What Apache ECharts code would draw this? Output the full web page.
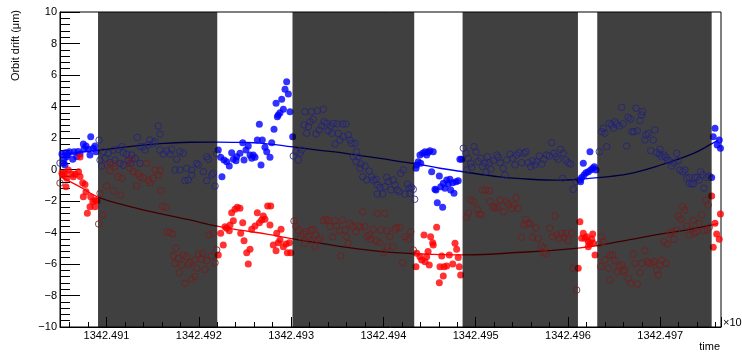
<!DOCTYPE html>
<html>
<head>
<meta charset="utf-8">
<script src="https://cdn.jsdelivr.net/npm/echarts@6/dist/echarts.min.js"></script>
<style>
  html, body { margin: 0; padding: 0; background: #fff; }
  #chart { width: 742px; height: 354px; }
</style>
</head>
<body>
<div id="chart"></div>
<script>
// time axis: seconds since 1342490 s (labels shown in units of 10^3 s)
const T_BASE = 1342.490;
const X_MIN = 0.496, X_MAX = 7.658;
const Y_MIN = -10, Y_MAX = 10;

// shaded intervals [start, end]
const shadedSpans = [
  [0.908, 2.200], [3.015, 4.334], [4.858, 6.108], [6.317, 7.557]
];

// filled markers (outside shaded intervals)
const blueSolid = [
  [0.517,0.98],[0.532,0.39],[0.540,0.65],[0.550,0.29],[0.556,1.07],[0.569,0.81],[0.583,0.95],[0.597,1.13],
  [0.634,0.65],[0.648,1.13],[0.677,0.81],[0.691,1.15],[0.713,0.98],[0.749,1.62],[0.756,1.30],[0.778,1.49],
  [0.803,1.28],[0.821,0.92],[0.829,2.08],[0.857,1.35],[0.875,1.50],[0.886,1.13],
  [2.211,1.24],[2.237,0.77],[2.251,-0.46],[2.273,0.60],[2.302,0.50],[2.330,0.22],[2.356,1.07],[2.374,0.65],
  [2.403,0.56],[2.410,0.81],[2.446,1.03],[2.476,1.70],[2.490,0.60],[2.511,1.24],[2.536,1.49],[2.555,0.92],
  [2.573,0.71],[2.590,0.92],[2.609,0.77],[2.634,1.87],[2.656,2.87],[2.674,0.29],[2.688,1.87],[2.717,1.41],
  [2.736,1.13],[2.771,0.77],[2.790,1.70],[2.815,2.55],[2.837,4.20],[2.851,3.35],[2.861,3.46],[2.880,3.61],
  [2.898,4.46],[2.916,3.82],[2.934,5.09],[2.952,5.57],[2.970,4.79],[2.988,3.67],[3.017,2.08],
  [4.353,0.08],[4.361,0.29],[4.378,0.50],[4.396,0.92],[4.404,0.39],[4.426,1.03],[4.451,1.13],[4.469,0.92],
  [4.486,1.10],[4.504,1.19],[4.523,-0.14],[4.540,1.13],[4.559,-1.26],[4.570,-1.30],[4.584,-2.11],[4.606,-0.41],
  [4.621,-1.09],[4.642,-2.40],[4.649,-0.88],[4.667,-1.19],[4.686,-0.67],[4.703,-0.92],[4.721,-0.62],[4.729,-1.30],
  [4.751,-0.84],[4.765,-1.51],[4.787,-0.77],[4.811,-0.71],[4.829,0.65],[4.848,0.65],
  [6.129,-0.67],[6.137,-0.77],[6.148,-0.50],[6.166,0.39],[6.174,-0.35],[6.195,-0.20],[6.220,-0.14],[6.238,1.13],
  [6.246,-0.03],[6.268,0.08],[6.285,0.18],[6.303,-0.03],
  [7.557,-0.50],[7.574,2.08],[7.593,2.62],[7.617,1.56],[7.639,1.87],[7.652,1.35]
];

const redSolid = [
  [0.517,-0.24],[0.529,-0.35],[0.550,-0.20],[0.561,-1.09],[0.569,-0.56],[0.586,-0.03],[0.623,-0.29],[0.640,-0.46],
  [0.659,-0.30],[0.697,-0.14],[0.713,0.80],[0.713,-0.45],[0.742,-0.84],[0.749,-1.73],[0.767,-0.95],[0.778,-1.41],
  [0.792,-2.78],[0.821,-2.36],[0.829,-1.73],[0.851,-2.04],[0.875,-1.95],[0.875,-2.36],[0.897,-2.00],
  [2.211,-5.43],[2.237,-4.05],[2.265,-4.79],[2.284,-3.63],[2.302,-3.73],[2.330,-3.89],[2.338,-3.52],[2.356,-2.74],
  [2.374,-3.25],[2.392,-2.53],[2.417,-2.40],[2.446,-2.46],[2.454,-4.05],[2.476,-3.38],[2.490,-4.52],[2.519,-5.28],
  [2.536,-6.00],[2.555,-5.07],[2.573,-3.80],[2.609,-3.59],[2.634,-2.74],[2.656,-3.38],[2.681,-3.21],[2.699,-2.95],
  [2.717,-3.16],[2.746,-2.32],[2.771,-3.52],[2.779,-2.32],[2.807,-4.79],[2.837,-5.16],[2.844,-4.05],[2.861,-4.65],
  [2.880,-4.48],[2.891,-3.80],[2.916,-4.90],[2.945,-4.73],[2.959,-5.28],[2.981,-4.65],[2.996,-5.28],
  [4.353,-6.17],[4.361,-5.32],[4.396,-5.54],[4.415,-5.75],[4.440,-4.16],[4.451,-5.85],[4.469,-5.54],[4.484,-5.20],
  [4.497,-6.06],[4.512,-4.27],[4.534,-4.65],[4.540,-4.79],[4.577,-3.67],[4.606,-7.19],[4.613,-6.17],[4.632,-5.49],
  [4.649,-6.76],[4.657,-6.17],[4.686,-6.13],[4.714,-5.43],[4.751,-6.00],[4.776,-4.69],[4.794,-5.07],[4.811,-5.58],
  [4.822,-6.17],[4.837,-6.70],
  [6.111,-6.27],[6.129,-3.31],[6.148,-4.37],[6.166,-4.05],[6.184,-4.37],[6.203,-4.27],[6.220,-4.58],[6.220,-4.90],
  [6.238,-4.73],[6.257,-4.43],[6.268,-4.10],[6.274,-4.69],[6.293,-5.43],
  [7.557,-1.68],[7.574,-4.94],[7.593,-3.42],[7.611,-4.10],[7.639,-4.43],[7.652,-2.83]
];

// open markers (inside shaded intervals)
const blueHollow = [
  [0.496,0.41],[0.919,1.87],
  [0.930,0.60],[0.948,0.22],[0.965,1.13],[0.984,0.71],[1.019,1.03],[1.038,0.43],[1.074,1.24],[1.092,0.60],
  [1.128,1.28],[1.146,0.39],[1.165,1.45],[1.182,1.07],[1.182,0.27],[1.219,0.98],[1.236,0.60],[1.262,0.39],
  [1.273,0.92],[1.309,0.71],[1.334,2.04],[1.363,0.39],[1.363,1.45],[1.399,1.45],[1.417,1.24],[1.453,1.56],
  [1.471,1.87],[1.507,1.66],[1.525,1.77],[1.561,2.76],[1.580,2.25],[1.580,1.24],[1.615,0.98],[1.652,1.19],
  [1.688,0.98],[1.706,1.28],[1.742,-0.03],[1.761,0.65],[1.796,1.13],[1.796,-0.03],[1.832,1.03],[1.850,-0.71],
  [1.869,0.08],[1.886,-0.67],[1.923,-0.03],[1.923,-0.35],[1.977,0.39],[1.995,0.29],[2.049,-0.14],[2.086,0.81],
  [2.086,-0.71],[2.103,0.65],[2.140,-0.35],[2.157,-0.24],[2.176,-1.05],[2.194,1.03],
  [3.024,0.86],[3.053,1.13],[3.078,0.60],[3.096,1.03],[3.115,1.24],[3.140,2.83],[3.150,3.67],[3.169,2.30],
  [3.187,2.72],[3.205,3.03],[3.223,3.67],[3.240,3.19],[3.270,2.25],[3.284,3.73],[3.305,2.51],[3.331,2.76],
  [3.349,3.82],[3.356,3.03],[3.386,2.93],[3.403,2.46],[3.429,2.76],[3.440,2.30],[3.457,2.93],[3.476,1.62],
  [3.501,2.89],[3.511,2.30],[3.529,1.87],[3.559,2.89],[3.565,2.08],[3.595,2.89],[3.620,2.19],[3.638,1.87],
  [3.656,1.66],[3.674,0.81],[3.692,1.66],[3.703,0.50],[3.711,1.13],[3.728,0.81],[3.746,0.08],[3.754,0.35],
  [3.776,-0.46],[3.801,0.22],[3.819,-0.67],[3.847,-0.10],[3.873,-0.46],[3.890,-0.67],[3.920,-0.62],[3.934,-0.98],
  [3.934,-1.56],[3.963,-1.13],[3.992,-1.56],[4.017,-1.09],[4.036,-0.50],[4.053,-0.77],[4.082,-1.30],[4.107,-0.67],
  [4.126,-0.98],[4.150,-1.30],[4.172,-1.41],[4.187,-0.24],[4.216,-0.03],[4.234,-1.56],[4.259,-0.92],[4.280,-1.19],
  [4.288,-1.51],[4.306,-1.13],[4.324,-1.26],[4.339,-1.89],
  [4.866,1.35],[4.895,1.03],[4.902,-0.03],[4.920,0.71],[4.946,0.39],[4.957,0.14],[4.982,1.45],[5.003,1.13],
  [5.028,0.50],[5.054,0.71],[5.076,0.18],[5.101,0.39],[5.111,-0.14],[5.126,0.81],[5.147,0.43],[5.163,0.01],
  [5.191,0.56],[5.228,0.92],[5.245,0.77],[5.263,0.43],[5.299,0.08],[5.317,-0.35],[5.336,0.60],[5.371,0.98],
  [5.400,0.71],[5.425,0.29],[5.444,0.92],[5.472,1.07],[5.498,0.43],[5.523,1.03],[5.545,1.13],[5.570,0.43],
  [5.596,0.18],[5.617,0.56],[5.642,0.29],[5.661,0.50],[5.689,0.86],[5.715,0.35],[5.740,0.65],[5.769,0.92],
  [5.797,0.86],[5.823,1.70],[5.848,1.03],[5.870,0.81],[5.895,0.65],[5.921,1.28],[5.943,-0.56],[5.949,1.03],
  [5.978,0.60],[6.003,0.43],[6.029,0.35],[6.057,-1.26],[6.086,-0.77],
  [6.339,1.13],[6.365,2.40],[6.382,2.62],[6.401,2.30],[6.419,1.45],[6.447,2.93],[6.473,2.83],[6.491,2.62],
  [6.509,3.03],[6.527,2.89],[6.556,2.76],[6.582,3.95],[6.599,2.89],[6.636,1.49],[6.653,3.31],[6.679,3.19],
  [6.690,2.40],[6.715,2.40],[6.737,3.89],[6.751,2.46],[6.780,3.10],[6.798,3.46],[6.809,3.67],[6.834,1.87],
  [6.845,2.19],[6.870,2.30],[6.896,1.19],[6.924,1.87],[6.942,2.51],[6.961,1.07],[6.989,0.98],[6.996,1.28],
  [7.015,0.81],[7.040,0.92],[7.062,0.77],[7.076,0.60],[7.098,0.56],[7.124,0.22],[7.149,0.43],[7.178,1.03],
  [7.195,0.56],[7.213,-0.03],[7.243,-0.14],[7.267,-0.03],[7.286,-0.56],[7.314,-0.88],[7.314,-0.50],[7.340,-0.92],
  [7.358,-0.92],[7.376,-0.50],[7.401,-0.50],[7.422,-0.67],[7.437,-0.14],[7.459,-0.35],[7.473,-1.19],[7.503,-0.50],
  [7.531,-0.41]
];

const redHollow = [
  [0.496,-0.86],[0.915,-3.46],
  [0.930,-1.51],[0.958,-2.89],[1.002,-1.05],[1.002,0.29],[1.038,-0.08],[1.074,0.39],[1.074,-1.35],[1.092,0.18],
  [1.128,-0.46],[1.154,-1.62],[1.165,-0.56],[1.236,0.50],[1.255,0.08],[1.273,0.65],[1.290,-0.14],[1.327,-1.05],
  [1.344,-0.24],[1.363,-0.46],[1.399,-0.56],[1.435,0.39],[1.453,-0.67],[1.471,-0.84],[1.507,-0.56],[1.525,-0.03],
  [1.561,-0.35],[1.580,-0.08],[1.587,-1.35],[1.609,-2.36],[1.645,-2.40],[1.652,-3.95],[1.688,-4.01],[1.717,-4.10],
  [1.724,-5.49],[1.742,-5.96],[1.753,-5.00],[1.778,-5.64],[1.789,-6.55],[1.815,-6.06],[1.832,-5.43],[1.850,-7.23],
  [1.869,-5.54],[1.886,-6.06],[1.905,-5.92],[1.923,-6.97],[1.959,-6.80],[1.959,-5.75],[1.977,-6.27],[1.995,-5.37],
  [2.031,-5.70],[2.042,-5.32],[2.067,-6.34],[2.086,-5.79],[2.114,-4.16],[2.140,-5.49],[2.157,-4.05],[2.176,-5.92],
  [2.194,-5.11],
  [3.031,-3.27],[3.053,-3.63],[3.078,-3.84],[3.104,-4.27],[3.132,-4.10],[3.150,-4.69],[3.161,-3.95],[3.187,-4.27],
  [3.205,-4.48],[3.212,-3.84],[3.240,-3.80],[3.259,-4.90],[3.270,-4.16],[3.295,-4.48],[3.313,-4.37],[3.349,-3.25],
  [3.378,-3.16],[3.403,-3.25],[3.421,-3.63],[3.450,-4.27],[3.476,-3.25],[3.494,-3.59],[3.522,-3.89],[3.537,-5.49],
  [3.559,-3.21],[3.584,-3.84],[3.602,-4.27],[3.620,-4.69],[3.638,-3.46],[3.667,-3.63],[3.703,-3.95],[3.728,-3.59],
  [3.754,-3.67],[3.776,-2.68],[3.801,-3.63],[3.826,-4.27],[3.847,-4.16],[3.862,-4.43],[3.890,-3.80],[3.920,-4.52],
  [3.934,-2.78],[3.956,-4.65],[3.974,-3.84],[3.999,-5.28],[4.017,-2.78],[4.036,-3.89],[4.042,-4.90],[4.071,-4.27],
  [4.101,-4.90],[4.126,-3.80],[4.144,-3.67],[4.179,-3.67],[4.209,-5.92],[4.234,-4.27],[4.270,-4.43],[4.296,-3.95],
  [4.324,-5.11],
  [4.902,-3.03],[4.920,-2.78],[4.946,-1.94],[4.974,-2.04],[5.017,-2.53],[5.039,-2.83],[5.065,-2.89],[5.076,-1.30],
  [5.111,-1.30],[5.147,-1.35],[5.155,-2.04],[5.191,-2.36],[5.209,-2.46],[5.234,-2.40],[5.263,-1.94],[5.299,-2.68],
  [5.328,-2.04],[5.353,-2.19],[5.390,-2.46],[5.415,-2.25],[5.437,-1.77],[5.461,-2.46],[5.498,-4.30],[5.523,-3.52],
  [5.545,-3.16],[5.563,-3.42],[5.588,-3.42],[5.617,-4.30],[5.653,-3.73],[5.678,-4.37],[5.715,-4.86],[5.733,-5.28],
  [5.740,-5.00],[5.762,-5.37],[5.804,-3.73],[5.834,-4.27],[5.859,-2.95],[5.877,-4.16],[5.906,-4.37],[5.932,-4.05],
  [5.956,-4.30],[5.978,-4.05],[6.003,-4.52],[6.040,-4.05],[6.057,-6.27],[6.094,-7.65],
  [6.339,-4.73],[6.354,-6.17],[6.365,-4.27],[6.382,-4.58],[6.401,-5.75],[6.437,-6.27],[6.454,-5.43],[6.454,-7.00],
  [6.484,-5.43],[6.509,-5.79],[6.534,-6.49],[6.556,-6.17],[6.582,-6.06],[6.599,-6.49],[6.617,-6.38],[6.653,-6.91],
  [6.679,-7.23],[6.707,-5.37],[6.726,-5.96],[6.751,-7.27],[6.780,-6.55],[6.798,-5.96],[6.834,-5.16],[6.859,-5.85],
  [6.881,-5.96],[6.907,-5.96],[6.932,-5.85],[6.961,-6.38],[6.978,-6.70],[6.996,-6.06],[7.015,-5.75],[7.040,-4.58],
  [7.062,-5.96],[7.076,-4.73],[7.104,-4.10],[7.124,-3.95],[7.149,-4.43],[7.178,-3.84],[7.195,-2.95],[7.221,-3.16],
  [7.243,-2.36],[7.267,-2.57],[7.286,-3.59],[7.314,-4.16],[7.340,-3.80],[7.358,-3.21],[7.365,-4.05],[7.394,-3.95],
  [7.422,-3.42],[7.448,-2.89],[7.473,-3.89],[7.495,-1.94],[7.509,-3.84],[7.520,-2.25],[7.531,-3.67]
];

// fitted trend curves
const blueFit = [
  [0.496,0.95],[0.908,1.22],[1.222,1.43],[1.580,1.64],[1.905,1.73],[2.197,1.74],[2.446,1.72],[2.663,1.68],
  [3.021,1.43],[3.313,1.22],[3.606,1.01],[3.963,0.70],[4.332,0.38],[4.613,0.08],[4.829,-0.11],[5.263,-0.47],
  [5.588,-0.62],[5.913,-0.68],[6.108,-0.63],[6.346,-0.50],[6.639,-0.30],[6.996,0.27],[7.354,1.01],[7.560,1.64],
  [7.625,1.85]
];
const redFit = [
  [0.496,-0.45],[0.713,-1.10],[0.908,-1.75],[1.255,-2.35],[1.580,-2.80],[1.905,-3.20],[2.197,-3.60],[2.446,-3.85],
  [2.736,-4.10],[3.021,-4.40],[3.313,-4.67],[3.606,-4.95],[3.963,-5.20],[4.332,-5.35],[4.613,-5.40],[4.829,-5.42],
  [5.154,-5.38],[5.444,-5.27],[5.804,-5.15],[6.108,-4.99],[6.346,-4.80],[6.671,-4.45],[6.996,-4.10],[7.321,-3.80],
  [7.560,-3.52],[7.625,-3.42]
];

const FONT = 'Liberation Sans, Arial, Helvetica, sans-serif';
const chart = echarts.init(document.getElementById('chart'), null, { renderer: 'canvas' });

const hollowStyle = (c) => ({ color: 'rgba(0,0,0,0)', borderColor: c, borderWidth: 1 });

chart.setOption({
  animation: false,
  backgroundColor: '#ffffff',
  grid: { left: 60, right: 21, top: 12, bottom: 27, show: true, borderColor: '#000', borderWidth: 1, backgroundColor: 'transparent' },
  xAxis: {
    type: 'value', min: X_MIN, max: X_MAX, minInterval: 1, maxInterval: 1, splitNumber: 7,
    axisLine: { show: true, onZero: false, lineStyle: { color: '#000', width: 1 } },
    axisTick: { show: true, inside: true, length: 10, lineStyle: { color: '#000' } },
    minorTick: { show: true, splitNumber: 5, length: 5, lineStyle: { color: '#000' } },
    splitLine: { show: false },
    axisLabel: {
      showMinLabel: false, showMaxLabel: false, margin: 3, color: '#000', fontSize: 11, fontFamily: FONT,
      formatter: (v) => (T_BASE + v / 1000).toFixed(3)
    }
  },
  yAxis: {
    type: 'value', min: Y_MIN, max: Y_MAX, interval: 2,
    axisLine: { show: true, onZero: false, lineStyle: { color: '#000', width: 1 } },
    axisTick: { show: true, inside: true, length: 20, lineStyle: { color: '#000' } },
    minorTick: { show: true, splitNumber: 5, length: 10, lineStyle: { color: '#000' } },
    splitLine: { show: false },
    axisLabel: {
      margin: 3, color: '#000', fontSize: 11, fontFamily: FONT,
      formatter: (v) => (v < 0 ? '\u2212' + Math.abs(v) : String(v))
    }
  },
  graphic: [
    { type: 'text', x: 16, y: 10, rotation: Math.PI / 2,
      style: { text: 'Orbit drift (\u03bcm)', fill: '#000', font: '11px ' + FONT, align: 'right', verticalAlign: 'middle' } },
    { type: 'text', x: 720, y: 347,
      style: { text: 'time', fill: '#000', font: '11px ' + FONT, align: 'right', verticalAlign: 'middle' } },
    { type: 'text', x: 723, y: 323,
      style: { text: '\u00d710', fill: '#000', font: '11px ' + FONT, align: 'left', verticalAlign: 'middle' } }
  ],
  series: [
    { type: 'line', data: blueFit, smooth: 0.4, showSymbol: false, z: 1, silent: true,
      lineStyle: { color: '#0000ff', width: 1.3 } },
    { type: 'line', data: redFit, smooth: 0.4, showSymbol: false, z: 1, silent: true,
      lineStyle: { color: '#ff0000', width: 1.3 } },
    { type: 'scatter', data: blueSolid, symbol: 'circle', symbolSize: 7, z: 2, silent: true,
      itemStyle: { color: '#0000ff' } },
    { type: 'scatter', data: redSolid, symbol: 'circle', symbolSize: 7, z: 2, silent: true,
      itemStyle: { color: '#ff0000' } },
    { type: 'custom', data: shadedSpans, z: 3, silent: true, clip: true,
      encode: { x: [0, 1] },
      renderItem: (params, api) => {
        const a = api.coord([api.value(0), Y_MAX]);
        const b = api.coord([api.value(1), Y_MIN]);
        return { type: 'rect', shape: { x: a[0], y: a[1], width: b[0] - a[0], height: b[1] - a[1] },
                 style: { fill: 'rgba(0,0,0,0.75)' } };
      } },
    { type: 'scatter', data: blueHollow, symbol: 'circle', symbolSize: 6.5, z: 4, silent: true,
      itemStyle: hollowStyle('#22227e') },
    { type: 'scatter', data: redHollow, symbol: 'circle', symbolSize: 6.5, z: 4, silent: true,
      itemStyle: hollowStyle('#761c1c') }
  ]
});
</script>
</body>
</html>
